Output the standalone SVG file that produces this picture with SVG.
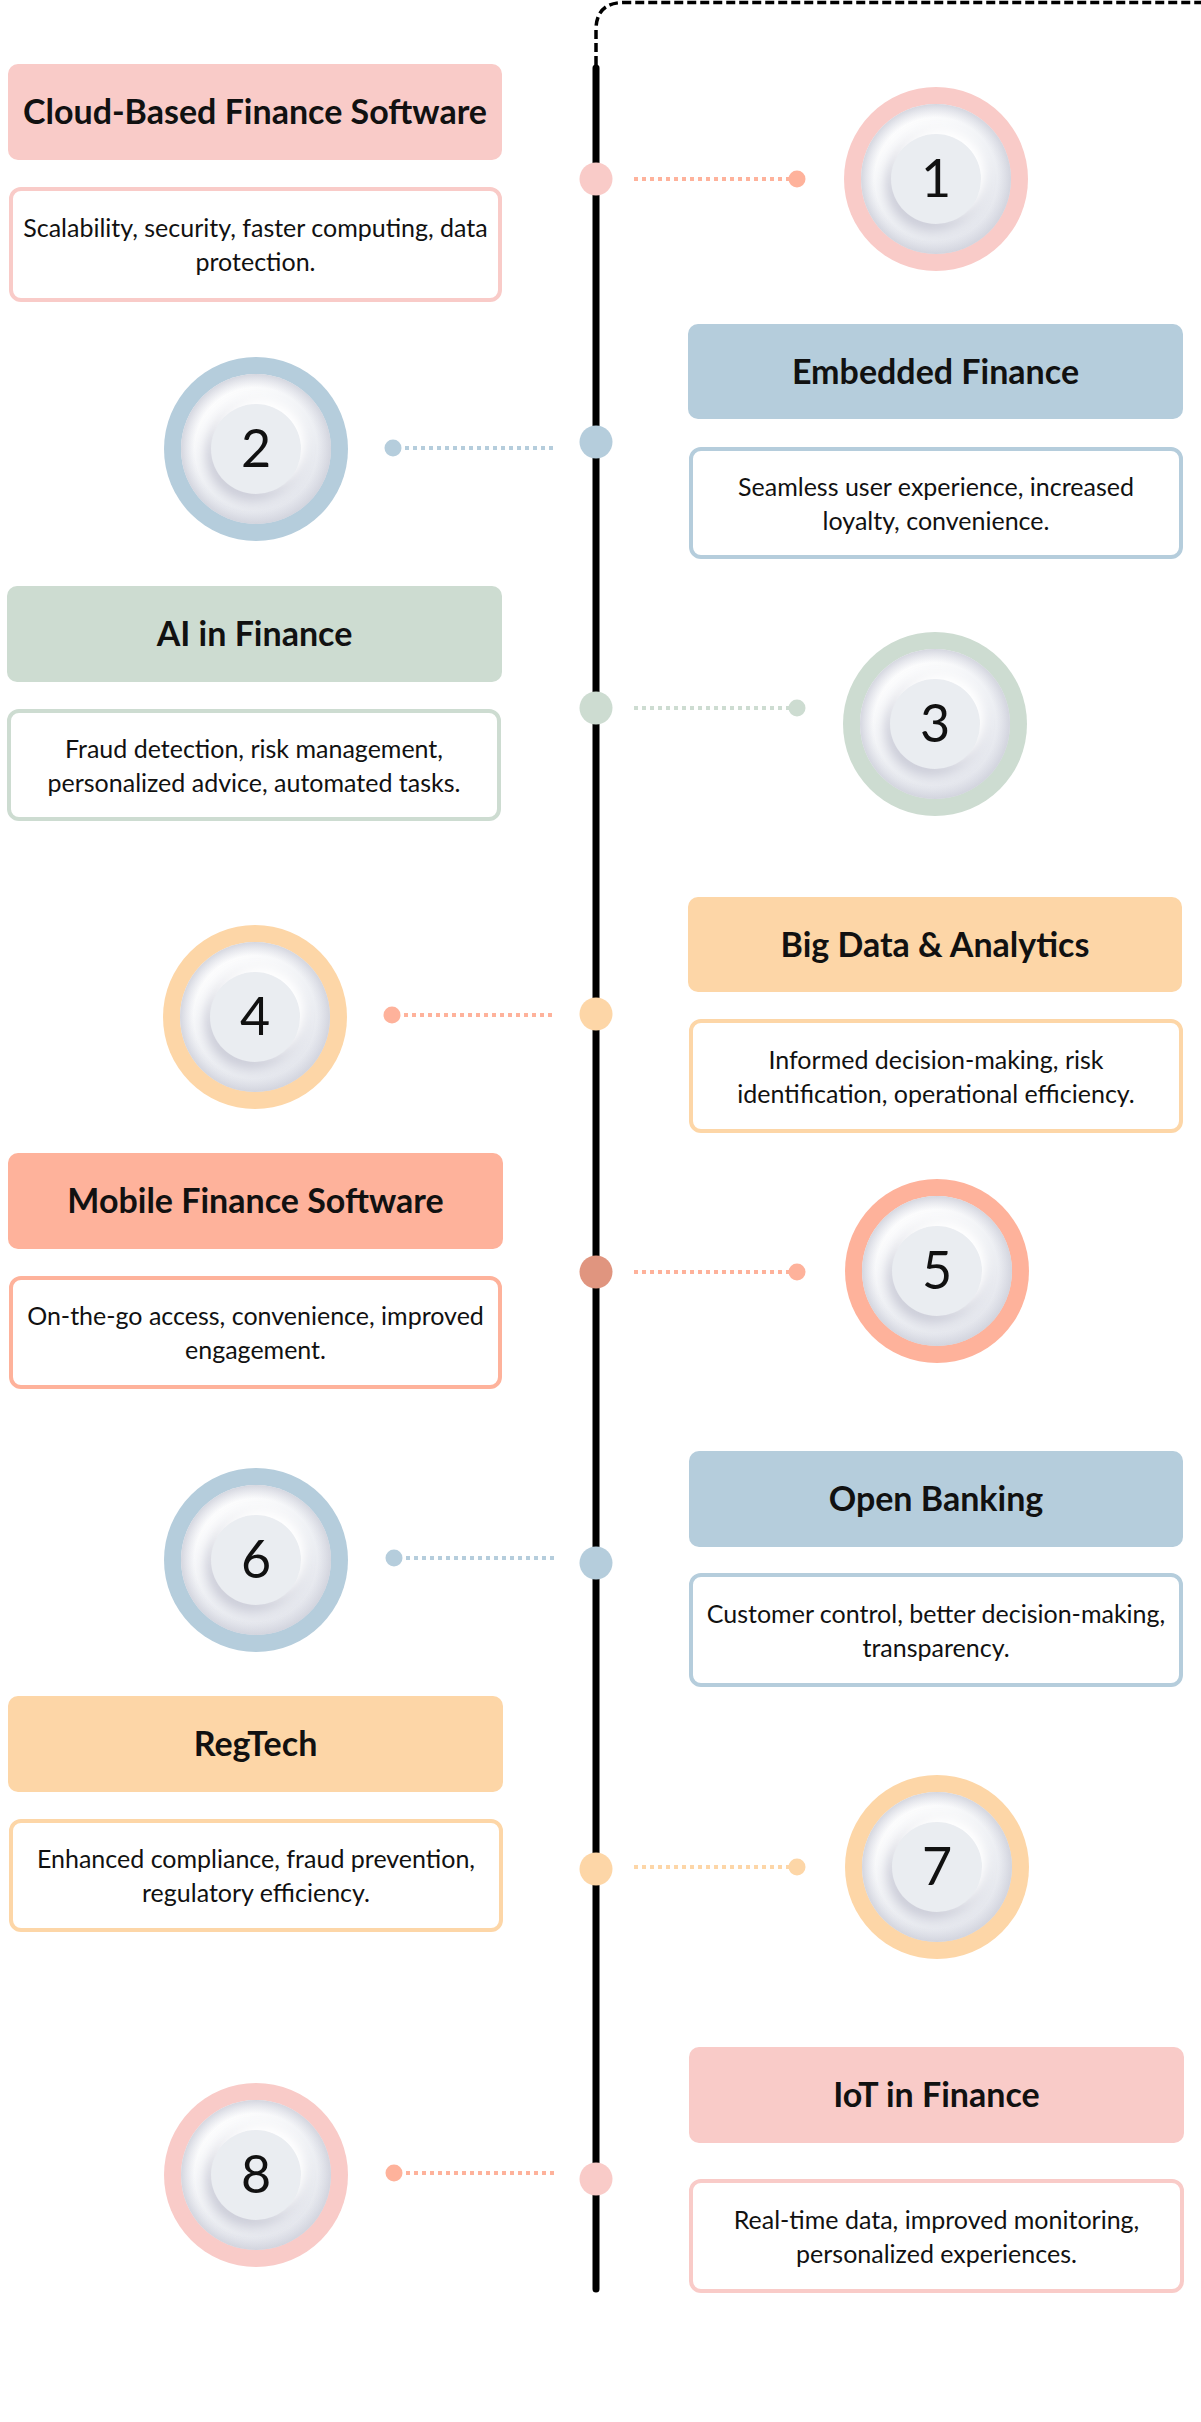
<svg xmlns="http://www.w3.org/2000/svg" width="1201" height="2422" viewBox="0 0 1201 2422">
<style>
  .title { font-family: Lato, "Liberation Sans", sans-serif; font-weight: 700; font-size: 34px; fill: #111; text-anchor: middle; }
  .desc { font-family: Lato, "Liberation Sans", sans-serif; font-weight: 400; font-size: 25px; fill: #111; text-anchor: middle; }
  .num { font-family: Lato, "Liberation Sans", sans-serif; font-size: 52px; fill: #111; text-anchor: middle; }
  .box { stroke-width: 4; fill: #fff; }
  .pinkF { fill: #f9cbc8; } .pinkS { stroke: #f9cbc8; }
  .blueF { fill: #b5cddc; } .blueS { stroke: #b5cddc; }
  .greenF { fill: #cddcd1; } .greenS { stroke: #cddcd1; }
  .peachF { fill: #fdd6a7; } .peachS { stroke: #fdd6a7; }
  .salmonF { fill: #feb29b; } .salmonS { stroke: #feb29b; }
  .dark5F { fill: #e0957f; }
  .conn { stroke-width: 4; stroke-dasharray: 4 4; fill: none; }
</style>
<defs>
  <linearGradient id="plate" x1="0.2" y1="0.1" x2="0.8" y2="0.95">
    <stop offset="0" stop-color="#ffffff"/>
    <stop offset="0.55" stop-color="#eef0f4"/>
    <stop offset="1" stop-color="#e2e4eb"/>
  </linearGradient>
  <radialGradient id="edge" cx="0.5" cy="0.5" r="0.5">
    <stop offset="0.82" stop-color="#d5d7e1" stop-opacity="0"/>
    <stop offset="1" stop-color="#d0d2dc" stop-opacity="0.9"/>
  </radialGradient>
  <filter id="sh" x="-50%" y="-50%" width="200%" height="200%">
    <feDropShadow dx="5" dy="-6" stdDeviation="5" flood-color="#ffffff" flood-opacity="1" result="a"/>
    <feDropShadow dx="-5" dy="7" stdDeviation="6" flood-color="#c7c9d5" flood-opacity="0.9"/>
  </filter>
  <g id="plateG">
    <circle r="75" fill="url(#plate)"/>
    <circle r="75" fill="url(#edge)"/>
    <circle r="45" fill="#eaedf1" filter="url(#sh)"/>
  </g>
</defs>
<rect width="1201" height="2422" fill="#ffffff"/>

<g id="connectors">
  <path d="M596,65 V30 Q596,2.5 624,2.5 H1201" fill="none" stroke="#000" stroke-width="3.5" stroke-dasharray="9 4"/>
  <line x1="596" y1="68" x2="596" y2="2289" stroke="#000" stroke-width="7" stroke-linecap="round"/>
  <line class="conn salmonS" x1="634" y1="179" x2="793" y2="179"/>
  <line class="conn blueS" x1="397" y1="448" x2="556" y2="448"/>
  <line class="conn greenS" x1="634" y1="708" x2="793" y2="708"/>
  <line class="conn salmonS" x1="396" y1="1015" x2="556" y2="1015"/>
  <line class="conn salmonS" x1="634" y1="1272" x2="793" y2="1272"/>
  <line class="conn blueS" x1="398" y1="1558" x2="556" y2="1558"/>
  <line class="conn peachS" x1="634" y1="1867" x2="793" y2="1867"/>
  <line class="conn salmonS" x1="398" y1="2173" x2="556" y2="2173"/>
  <circle class="salmonF" cx="797" cy="179" r="8.5"/>
  <circle class="blueF" cx="393" cy="448" r="8.5"/>
  <circle class="greenF" cx="797" cy="708" r="8.5"/>
  <circle class="salmonF" cx="392" cy="1015" r="8.5"/>
  <circle class="salmonF" cx="797" cy="1272" r="8.5"/>
  <circle class="blueF" cx="394" cy="1558" r="8.5"/>
  <circle class="peachF" cx="797" cy="1867" r="8.5"/>
  <circle class="salmonF" cx="394" cy="2173" r="8.5"/>
  <circle class="pinkF" cx="596" cy="179" r="16.5"/>
  <circle class="blueF" cx="596" cy="442" r="16.5"/>
  <circle class="greenF" cx="596" cy="708" r="16.5"/>
  <circle class="peachF" cx="596" cy="1014" r="16.5"/>
  <circle class="dark5F" cx="596" cy="1272" r="16.5"/>
  <circle class="blueF" cx="596" cy="1563" r="16.5"/>
  <circle class="peachF" cx="596" cy="1869" r="16.5"/>
  <circle class="pinkF" cx="596" cy="2179" r="16.5"/>
</g>

<g id="item-1">
  <rect class="pinkF" x="8" y="64" width="494" height="96" rx="10"/>
  <text class="title" x="255" y="124">Cloud-Based Finance Software</text>
  <rect class="box pinkS" x="11" y="189" width="489" height="111" rx="10"/>
  <text class="desc" x="255.5" y="237">Scalability, security, faster computing, data</text>
  <text class="desc" x="255.5" y="271">protection.</text>
</g>
<g id="step-1" transform="translate(936,179)">
  <circle r="92" class="pinkF"/><use href="#plateG"/><text class="num" y="18">1</text>
</g>

<g id="item-2">
  <rect class="blueF" x="688" y="324" width="495" height="95" rx="10"/>
  <text class="title" x="935.5" y="384">Embedded Finance</text>
  <rect class="box blueS" x="691" y="449" width="490" height="108" rx="10"/>
  <text class="desc" x="936" y="496">Seamless user experience, increased</text>
  <text class="desc" x="936" y="530">loyalty, convenience.</text>
</g>
<g id="step-2" transform="translate(256,449)">
  <circle r="92" class="blueF"/><use href="#plateG"/><text class="num" y="18">2</text>
</g>

<g id="item-3">
  <rect class="greenF" x="7" y="586" width="495" height="96" rx="10"/>
  <text class="title" x="254.5" y="646">AI in Finance</text>
  <rect class="box greenS" x="9" y="711" width="490" height="108" rx="10"/>
  <text class="desc" x="254" y="758">Fraud detection, risk management,</text>
  <text class="desc" x="254" y="792">personalized advice, automated tasks.</text>
</g>
<g id="step-3" transform="translate(935,724)">
  <circle r="92" class="greenF"/><use href="#plateG"/><text class="num" y="18">3</text>
</g>

<g id="item-4">
  <rect class="peachF" x="688" y="897" width="494" height="95" rx="10"/>
  <text class="title" x="935" y="957">Big Data &amp; Analytics</text>
  <rect class="box peachS" x="691" y="1021" width="490" height="110" rx="10"/>
  <text class="desc" x="936" y="1069">Informed decision-making, risk</text>
  <text class="desc" x="936" y="1103">identification, operational efficiency.</text>
</g>
<g id="step-4" transform="translate(255,1017)">
  <circle r="92" class="peachF"/><use href="#plateG"/><text class="num" y="18">4</text>
</g>

<g id="item-5">
  <rect class="salmonF" x="8" y="1153" width="495" height="96" rx="10"/>
  <text class="title" x="255.5" y="1213">Mobile Finance Software</text>
  <rect class="box salmonS" x="11" y="1278" width="489" height="109" rx="10"/>
  <text class="desc" x="255.5" y="1325">On-the-go access, convenience, improved</text>
  <text class="desc" x="255.5" y="1359">engagement.</text>
</g>
<g id="step-5" transform="translate(937,1271)">
  <circle r="92" class="salmonF"/><use href="#plateG"/><text class="num" y="18">5</text>
</g>

<g id="item-6">
  <rect class="blueF" x="689" y="1451" width="494" height="96" rx="10"/>
  <text class="title" x="936" y="1511">Open Banking</text>
  <rect class="box blueS" x="691" y="1575" width="490" height="110" rx="10"/>
  <text class="desc" x="936" y="1623">Customer control, better decision-making,</text>
  <text class="desc" x="936" y="1657">transparency.</text>
</g>
<g id="step-6" transform="translate(256,1560)">
  <circle r="92" class="blueF"/><use href="#plateG"/><text class="num" y="18">6</text>
</g>

<g id="item-7">
  <rect class="peachF" x="8" y="1696" width="495" height="96" rx="10"/>
  <text class="title" x="255.5" y="1756">RegTech</text>
  <rect class="box peachS" x="11" y="1821" width="490" height="109" rx="10"/>
  <text class="desc" x="256" y="1868">Enhanced compliance, fraud prevention,</text>
  <text class="desc" x="256" y="1902">regulatory efficiency.</text>
</g>
<g id="step-7" transform="translate(937,1867)">
  <circle r="92" class="peachF"/><use href="#plateG"/><text class="num" y="18">7</text>
</g>

<g id="item-8">
  <rect class="pinkF" x="689" y="2047" width="495" height="96" rx="10"/>
  <text class="title" x="936.5" y="2107">IoT in Finance</text>
  <rect class="box pinkS" x="691" y="2181" width="491" height="110" rx="10"/>
  <text class="desc" x="936.5" y="2229">Real-time data, improved monitoring,</text>
  <text class="desc" x="936.5" y="2263">personalized experiences.</text>
</g>
<g id="step-8" transform="translate(256,2175)">
  <circle r="92" class="pinkF"/><use href="#plateG"/><text class="num" y="18">8</text>
</g>
</svg>
